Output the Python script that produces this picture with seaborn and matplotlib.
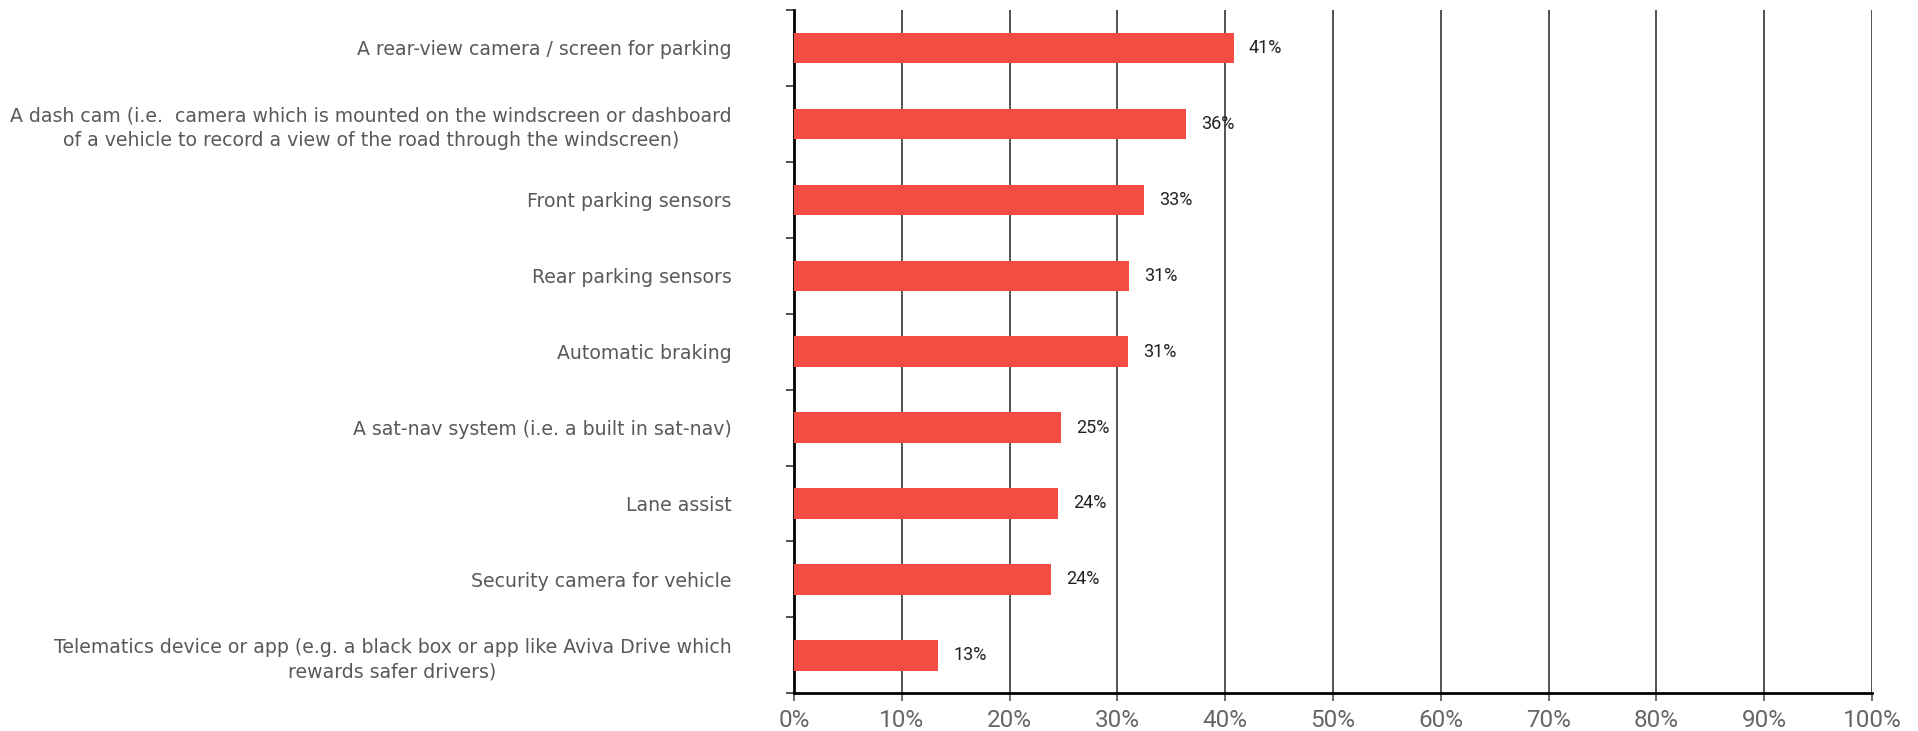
import matplotlib
matplotlib.use("Agg")
import matplotlib.pyplot as plt
import seaborn as sns
import pandas as pd
from matplotlib.ticker import FuncFormatter, FixedLocator

categories = [
    "A rear-view camera / screen for parking",
    "A dash cam (i.e.  camera which is mounted on the windscreen or dashboard\nof a vehicle to record a view of the road through the windscreen)",
    "Front parking sensors",
    "Rear parking sensors",
    "Automatic braking",
    "A sat-nav system (i.e. a built in sat-nav)",
    "Lane assist",
    "Security camera for vehicle",
    "Telematics device or app (e.g. a black box or app like Aviva Drive which\nrewards safer drivers)",
]
values = [40.8, 36.4, 32.5, 31.1, 31.0, 24.8, 24.5, 23.8, 13.4]
value_labels = ["41%", "36%", "33%", "31%", "31%", "25%", "24%", "24%", "13%"]
xticks = [0, 10, 20, 30, 40, 50, 60, 70, 80, 90, 100]

df = pd.DataFrame({"feature": categories, "pct": values})

sns.set_theme(style="white")
plt.rcParams["font.family"] = ["DejaVu Sans"]

fig = plt.figure(figsize=(19.18, 7.31), dpi=100)
ax = fig.add_axes([794 / 1918, (731 - 693.3) / 731, (1872 - 794) / 1918, (693.3 - 10) / 731])

sns.barplot(data=df, x="pct", y="feature", orient="h", color="#F44B42",
            saturation=1, width=0.4, ax=ax, zorder=3, linewidth=0)

ax.set_xlim(0, 100)
ax.set_ylim(len(categories) - 0.5, -0.5)
ax.xaxis.set_major_locator(FixedLocator(xticks))
ax.xaxis.set_major_formatter(FuncFormatter(lambda v, p: f"{int(v)}%"))
ax.grid(axis="x", color="#444444", linewidth=1.3, zorder=0)
ax.grid(axis="y", visible=False)

for s in ["top", "right"]:
    ax.spines[s].set_visible(False)
for s in ["left", "bottom"]:
    ax.spines[s].set_visible(True)
    ax.spines[s].set_color("black")
    ax.spines[s].set_linewidth(2)

ax.set_xlabel("")
ax.set_ylabel("")

ax.tick_params(axis="x", which="major", bottom=True, length=6, width=1.2,
               color="#555555", labelsize=17.5, labelcolor="#666666", pad=5)
for lab in ax.get_xticklabels():
    lab.set_family(["Roboto", "DejaVu Sans"])

ax.tick_params(axis="y", which="major", left=False, labelsize=13.6,
               labelcolor="#595959", pad=39)
for lab in ax.get_yticklabels():
    lab.set_horizontalalignment("right")
    lab.set_multialignment("center")
    lab.set_linespacing(1.35)

ax.yaxis.set_minor_locator(FixedLocator([i - 0.5 for i in range(len(categories) + 1)]))
ax.tick_params(axis="y", which="minor", left=True, length=6, width=1.2, color="#333333")

for i, (v, t) in enumerate(zip(values, value_labels)):
    ax.text(v + 1.4, i, t, va="center", ha="left", fontsize=13,
            color="#222222", family=["Roboto", "DejaVu Sans"], zorder=4)

fig.savefig("out.png", dpi=100)
